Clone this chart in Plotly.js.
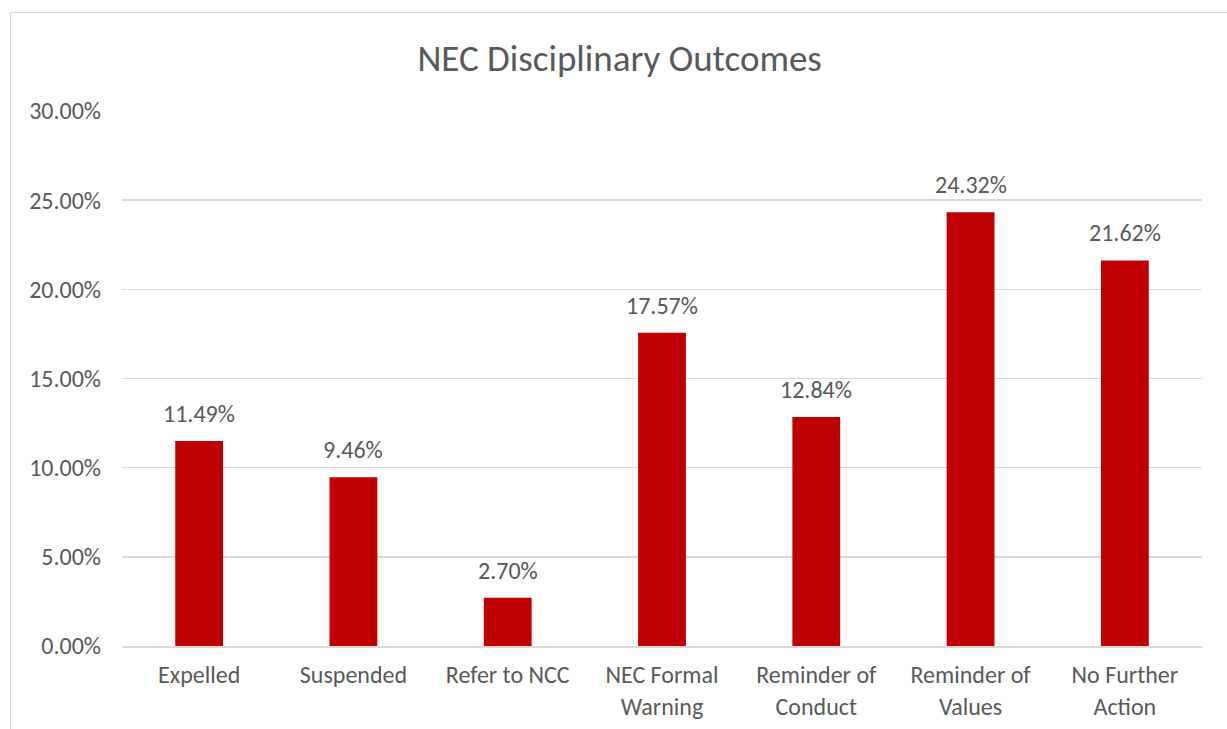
<!DOCTYPE html>
<html><head><meta charset="utf-8">
<script src="https://cdn.plot.ly/plotly-3.0.1.min.js"></script>
<style>
html,body{margin:0;padding:0;background:#fff;overflow:hidden;}
#frame{position:absolute;left:10px;top:12px;width:1240px;height:740px;border:1px solid #D9D9D9;box-sizing:border-box;}
#chart{position:absolute;left:0;top:0;width:1227px;height:729px;}
</style></head>
<body>
<div id="frame"></div>
<div id="chart"></div>
<script>
const categories = ["Expelled","Suspended","Refer to NCC","NEC Formal<br>Warning","Reminder of<br>Conduct","Reminder of<br>Values","No Further<br>Action"];
const values = [0.1149,0.0946,0.0270,0.1757,0.1284,0.2432,0.2162];
const yTicks = [0,0.05,0.10,0.15,0.20,0.25,0.30];

const font = "Carlito, 'Open Sans', 'Noto Sans', sans-serif";
const labels = categories.map((c,i)=>({
  x:c, y:values[i], xref:'x', yref:'y',
  text:(values[i]*100).toFixed(2)+'%', showarrow:false,
  yanchor:'bottom', xanchor:'center', yshift:11,
  font:{family:font,size:24,color:'#595959'}
}));
Plotly.newPlot('chart',[{
  type:'bar', x:categories, y:values,
  marker:{color:'#C00000'},
  hoverinfo:'none'
}],{
  width:1227,height:729,
  paper_bgcolor:'rgba(0,0,0,0)',plot_bgcolor:'rgba(0,0,0,0)',
  margin:{l:122,r:25,t:111,b:83},
  bargap:0.69,
  showlegend:false,
  annotations:labels,
  title:{text:'NEC Disciplinary Outcomes',x:0.505,xanchor:'center',y:0.92,yanchor:'middle',font:{family:font,size:37,color:'#595959'}},
  xaxis:{type:'category',showgrid:false,showline:true,linecolor:'#D9D9D9',linewidth:1.5,ticks:'',ticklabelstandoff:7,
    tickfont:{family:font,size:24,color:'#595959'},fixedrange:true},
  yaxis:{range:[0,0.30],tickvals:yTicks,tickformat:'.2%',showgrid:true,gridcolor:'#D9D9D9',gridwidth:1.5,
    zeroline:false,showline:false,ticks:'',ticklabelstandoff:20,
    tickfont:{family:font,size:24,color:'#595959'},fixedrange:true}
},{displayModeBar:false,staticPlot:true});
</script>
</body></html>
